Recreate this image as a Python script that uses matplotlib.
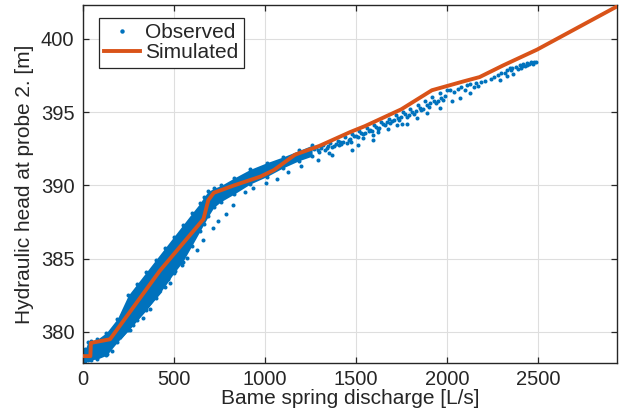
import matplotlib
matplotlib.use("Agg")
import matplotlib.pyplot as plt
from matplotlib.lines import Line2D

# ---------------- data ----------------
# Simulated hydraulic head
sim_q = [0, 42, 45, 150, 425, 663, 690, 720, 830, 975, 1050, 1166, 1300, 1470,
         1550, 1750, 1918, 2090, 2180, 2310, 2495, 2934]
sim_h = [378.35, 378.35, 379.25, 379.5, 384.2, 387.7, 389.0, 389.5, 390.0, 390.6,
         391.05, 392.1, 392.7, 393.65, 394.05, 395.2, 396.5, 397.1, 397.4, 398.2,
         399.27, 402.22]

# Dense observed band (edges)
band_q = [0, 15, 28, 45, 80, 130, 190, 250, 300, 350, 400, 450, 500, 550, 600,
          645, 665, 690, 720, 760, 830, 920, 1010, 1100, 1190, 1260]
band_hi = [378.8, 378.85, 379.3, 379.4, 379.5, 379.95, 380.9, 382.5, 383.3, 384.1,
           384.9, 385.7, 386.5, 387.3, 388.1, 388.8, 389.2, 389.6, 389.8, 390.0,
           390.5, 391.1, 391.55, 391.95, 392.4, 392.75]
band_lo = [378.0, 378.05, 378.1, 378.1, 378.15, 378.4, 379.3, 380.1, 380.8, 381.5,
           382.3, 383.1, 384.0, 384.8, 385.9, 386.9, 387.35, 387.9, 388.5, 388.9,
           389.4, 390.1, 390.6, 391.2, 391.7, 392.0]

# Separate lower streak
streak_q = [205, 300, 434]
streak_hi = [379.75, 381.12, 383.05]
streak_lo = [379.45, 380.82, 382.75]

# Individual observed points
obs_q = [1270, 1290, 1310, 1330, 1350, 1370, 1390, 1410, 1430, 1450, 1470, 1490,
         1510, 1530, 1550, 1570, 1590, 1610, 1630, 1650, 1670, 1690, 1710, 1730,
         1750, 1770, 1790, 1810, 1830, 1850, 1870, 1890, 1910, 1930, 1950, 1970, 1990,
         1280, 1320, 1360, 1400, 1440, 1480, 1520, 1560, 1600, 1640, 1680, 1720,
         1760, 1800, 1840, 1880, 1920, 1960, 2000,
         1300, 1340, 1380, 1420, 1460, 1500, 1540, 1580, 1620, 1660, 1700, 1740,
         1780, 1820, 1860, 1900, 1940, 1980,
         2020, 2040, 2060, 2080, 2100, 2110, 2130, 2150, 2160, 2190, 2210, 2240,
         2260, 2280, 2300, 2320, 2330, 2350, 2360, 2380, 2400, 2410, 2420, 2440,
         2450, 2460, 2470, 2480, 2490, 2440, 2390, 2345, 2430, 2475,
         1963, 2027, 2073, 2128, 2174, 2293, 2330, 2366, 2412, 1890, 1835, 1780,
         1753, 1725, 1679, 1624, 1593, 1597, 1542, 1514, 1478, 1474, 1414, 1368,
         1355, 1291, 1198, 1130, 1066, 1007, 937, 892, 827, 788, 745, 718, 663,
         630, 571, 544, 507, 470, 480, 370, 333, 278, 260, 159, 141, 132, 77, 0]
obs_h = [392.5, 392.4, 392.55, 392.45, 392.7, 392.6, 392.85, 392.75, 393.0, 392.9,
         393.2, 393.35, 393.3, 393.55, 393.6, 393.75, 393.7, 394.0, 393.95, 394.2,
         394.3, 394.25, 394.5, 394.6, 394.65, 394.85, 394.8, 395.0, 395.1, 395.3,
         395.25, 395.5, 395.6, 395.8, 395.75, 396.0, 396.1,
         392.65, 392.75, 392.9, 393.05, 393.3, 393.5, 393.7, 393.9, 394.1, 394.35,
         394.55, 394.8, 395.0, 395.25, 395.5, 395.8, 396.05, 396.3, 396.5,
         392.3, 392.55, 392.7, 392.85, 393.1, 393.4, 393.5, 393.8, 393.85, 394.1,
         394.4, 394.45, 394.7, 394.9, 395.15, 395.35, 395.6, 395.85,
         396.55, 396.4, 396.6, 396.7, 396.55, 396.85, 396.9, 396.75, 397.0, 397.05,
         397.15, 397.3, 397.4, 397.55, 397.7, 397.65, 397.9, 397.85, 398.0, 398.1,
         398.2, 398.05, 398.3, 398.35, 398.3, 398.4, 398.35, 398.4, 398.45, 398.2,
         397.95, 398.0, 398.15, 398.3,
         395.29, 395.74, 395.97, 396.31, 396.77, 397.22, 397.45, 397.63, 398.13,
         394.95, 394.61, 394.22, 394.22, 394.15, 393.88, 393.62, 393.47, 393.12,
         393.24, 392.79, 392.4, 393.0, 392.94, 392.1, 392.22, 391.71, 391.35,
         390.92, 390.46, 390.17, 389.83, 389.53, 388.69, 388.07, 387.55, 387.1,
         386.3, 385.62, 385.05, 384.59, 384.14, 383.62, 383.34, 381.57, 380.96,
         380.5, 380.16, 378.68, 378.79, 378.5, 378.9, 377.95]

x_ticks = [0, 500, 1000, 1500, 2000, 2500]
y_ticks = [380, 385, 390, 395, 400]
x_label = "Bame spring discharge [L/s]"
y_label = "Hydraulic head at probe 2. [m]"

# ---------------- style ----------------
BLUE = "#0072BD"
ORANGE = "#D95319"
AX = "#262626"
plt.rcParams["font.family"] = ["Liberation Sans", "DejaVu Sans"]

fig = plt.figure(figsize=(6.21, 4.18), dpi=100)
ax = fig.add_axes([0.1332, 0.1323, 0.8604, 0.855])

ms = 2.9
ax.fill_between(band_q, band_lo, band_hi, color=BLUE, lw=0, zorder=2)
ax.fill_between(streak_q, streak_lo, streak_hi, color=BLUE, lw=0, zorder=2)
for yy in (band_hi, band_lo):
    ax.plot(band_q, yy, ls="none", marker="o", ms=ms, mew=0, color=BLUE, zorder=2)
ax.plot(obs_q, obs_h, ls="none", marker="o", ms=ms, mew=0, color=BLUE, zorder=2)

ax.plot(sim_q, sim_h, color=ORANGE, lw=2.8, zorder=3, solid_joinstyle="round")

ax.set_xlim(0, 2935)
ax.set_ylim(377.9, 402.3)
ax.set_xticks(x_ticks)
ax.set_yticks(y_ticks)
ax.grid(True, color="#dedede", lw=0.8)
ax.set_axisbelow(True)
for s in ax.spines.values():
    s.set_color(AX)
    s.set_linewidth(1.0)
ax.tick_params(direction="in", length=4, width=0.9, colors=AX, labelsize=14.5,
               top=True, right=True)
ax.tick_params(axis="x", pad=5)
ax.tick_params(axis="y", pad=6)

ax.set_xlabel(x_label, fontsize=15, color=AX)
ax.set_ylabel(y_label, fontsize=15, color=AX)
ax.xaxis.set_label_coords(0.5, -0.074)
ax.yaxis.set_label_coords(-0.091, 0.5)

handles = [Line2D([], [], ls="none", marker="o", ms=3.2, mew=0, color=BLUE),
           Line2D([], [], color=ORANGE, lw=2.8)]
leg = ax.legend(handles, ["Observed", "Simulated"], loc="upper left",
                bbox_to_anchor=(0.031, 0.964), borderaxespad=0, fontsize=15,
                frameon=True, fancybox=False, framealpha=1, edgecolor=AX,
                handlelength=1.7, handletextpad=0.25, borderpad=0.25,
                labelspacing=0.05)
leg.get_frame().set_linewidth(0.9)
for t in leg.get_texts():
    t.set_color(AX)

fig.savefig("out.png", dpi=100)
